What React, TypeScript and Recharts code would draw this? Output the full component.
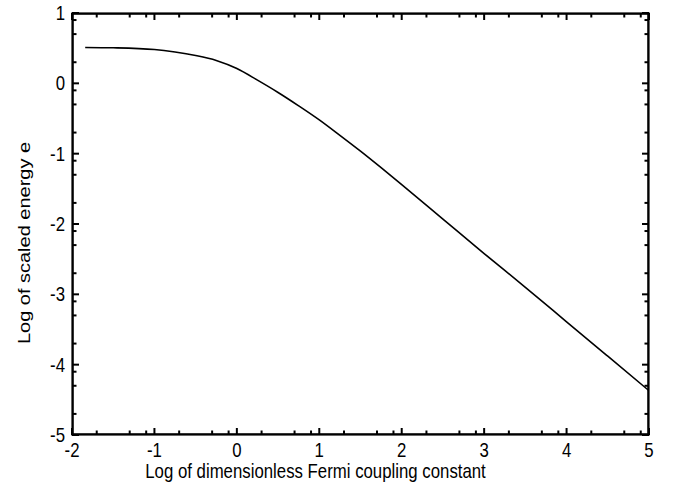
import { LineChart, Line, XAxis, YAxis, Label, ReferenceLine, ReferenceArea } from 'recharts';

// log of dimensionless Fermi coupling constant vs log of scaled energy e
const LOG_G = [-1.84, -1.5, -1.0, -0.75, -0.5, -0.25, 0, 0.25, 0.5, 0.75, 1, 1.25, 1.5, 1.75, 2, 2.5, 3, 3.5, 4, 4.5, 5];
const LOG_E = [0.51, 0.505, 0.48, 0.445, 0.395, 0.325, 0.21, 0.045, -0.13, -0.32, -0.52, -0.74, -0.965, -1.2, -1.44, -1.93, -2.42, -2.9, -3.39, -3.88, -4.37];

const X_MAJOR = [-2, -1, 0, 1, 2, 3, 4, 5];
const Y_MAJOR = [-5, -4, -3, -2, -1, 0, 1];
// minor ticks sit at these fractions of each unit
const MINOR_STEPS = [0.3, 0.7, 0.9];

const X_MINOR = X_MAJOR.slice(0, -1).flatMap((v) => MINOR_STEPS.map((s) => v + s));
const Y_MINOR = Y_MAJOR.slice(0, -1).flatMap((v) => MINOR_STEPS.map((s) => v + s));

const data = LOG_G.map((x, i) => ({ x, y: LOG_E[i] }));

const FONT = '"Liberation Sans", Arial, Helvetica, sans-serif';
const SQUASH = 0.84; // the reference text is a bit narrow
const MAJOR_LEN = 7;
const MINOR_LEN = 4.5;
const TICK_W = 2;
const FRAME_W = 2.4;

function Txt({ x, y, anchor, children, rotate }: any) {
  return (
    <text
      transform={`translate(${x},${y}) scale(${SQUASH},1)${rotate ? ` rotate(${rotate})` : ''}`}
      textAnchor={anchor}
      fontFamily={FONT}
      fontSize={20}
      fill="#000"
    >
      {children}
    </text>
  );
}

const bottomLabel = (p: any) => (
  <Txt key={`b${p.index}`} x={p.x} y={p.y + 22} anchor="middle">
    {p.payload.value}
  </Txt>
);

const leftLabel = (p: any) => (
  <Txt key={`l${p.index}`} x={p.x - 7} y={p.y + 7} anchor="end">
    {p.payload.value}
  </Txt>
);

// inward tick marks at both ends of a vertical / horizontal reference line
const vTicks = (len: number) => (p: any) => {
  const top = Math.min(p.y1, p.y2);
  const bottom = Math.max(p.y1, p.y2);
  return (
    <g>
      <line x1={p.x1} x2={p.x1} y1={bottom} y2={bottom - len} stroke="#000" strokeWidth={TICK_W} />
      <line x1={p.x1} x2={p.x1} y1={top} y2={top + len} stroke="#000" strokeWidth={TICK_W} />
    </g>
  );
};

const hTicks = (len: number) => (p: any) => {
  const left = Math.min(p.x1, p.x2);
  const right = Math.max(p.x1, p.x2);
  return (
    <g>
      <line x1={left} x2={left + len} y1={p.y1} y2={p.y1} stroke="#000" strokeWidth={TICK_W} />
      <line x1={right} x2={right - len} y1={p.y1} y2={p.y1} stroke="#000" strokeWidth={TICK_W} />
    </g>
  );
};

// inset by half the stroke so a clip on the plot area cannot thin the frame
const frame = (p: any) => (
  <rect
    x={p.x + FRAME_W / 2 - 0.6}
    y={p.y + FRAME_W / 2 - 0.6}
    width={p.width - FRAME_W + 1.2}
    height={p.height - FRAME_W + 1.2}
    fill="none"
    stroke="#000"
    strokeWidth={FRAME_W}
  />
);

function XTitle({ viewBox }: any) {
  return (
    <Txt x={viewBox.x + viewBox.width / 2 - 45} y={viewBox.y + 43} anchor="middle">
      Log of dimensionless Fermi coupling constant
    </Txt>
  );
}

function YTitle({ viewBox }: any) {
  return (
    <Txt x={29.5} y={viewBox.y + viewBox.height / 2 + 19} anchor="middle" rotate={-90}>
      Log of scaled energy e
    </Txt>
  );
}

export default function App() {
  return (
    <div style={{ position: 'absolute', left: 0, top: 0, background: '#fff' }}>
      <LineChart width={673} height={493} data={data} margin={{ top: 13, right: 24, left: 0, bottom: 0 }}>
        <XAxis
          dataKey="x"
          type="number"
          domain={[-2, 5]}
          ticks={X_MAJOR}
          interval={0}
          allowDataOverflow
          height={58}
          tickSize={0}
          tickMargin={0}
          tickLine={false}
          axisLine={false}
          tick={bottomLabel}
        >
          <Label content={<XTitle />} />
        </XAxis>
        <YAxis
          type="number"
          domain={[-5, 1]}
          ticks={Y_MAJOR}
          interval={0}
          allowDataOverflow
          width={72}
          tickSize={0}
          tickMargin={0}
          tickLine={false}
          axisLine={false}
          tick={leftLabel}
        >
          <Label content={<YTitle />} />
        </YAxis>
        {X_MAJOR.map((v) => (
          <ReferenceLine key={`xm${v}`} x={v} ifOverflow="visible" shape={vTicks(MAJOR_LEN)} />
        ))}
        {X_MINOR.map((v) => (
          <ReferenceLine key={`xn${v}`} x={v} ifOverflow="visible" shape={vTicks(MINOR_LEN)} />
        ))}
        {Y_MAJOR.map((v) => (
          <ReferenceLine key={`ym${v}`} y={v} ifOverflow="visible" shape={hTicks(MAJOR_LEN)} />
        ))}
        {Y_MINOR.map((v) => (
          <ReferenceLine key={`yn${v}`} y={v} ifOverflow="visible" shape={hTicks(MINOR_LEN)} />
        ))}
        <Line
          type="monotone"
          dataKey="y"
          stroke="#000"
          strokeWidth={1.6}
          dot={false}
          isAnimationActive={false}
        />
        <ReferenceArea x1={-2} x2={5} y1={-5} y2={1} ifOverflow="visible" shape={frame} />
      </LineChart>
    </div>
  );
}
